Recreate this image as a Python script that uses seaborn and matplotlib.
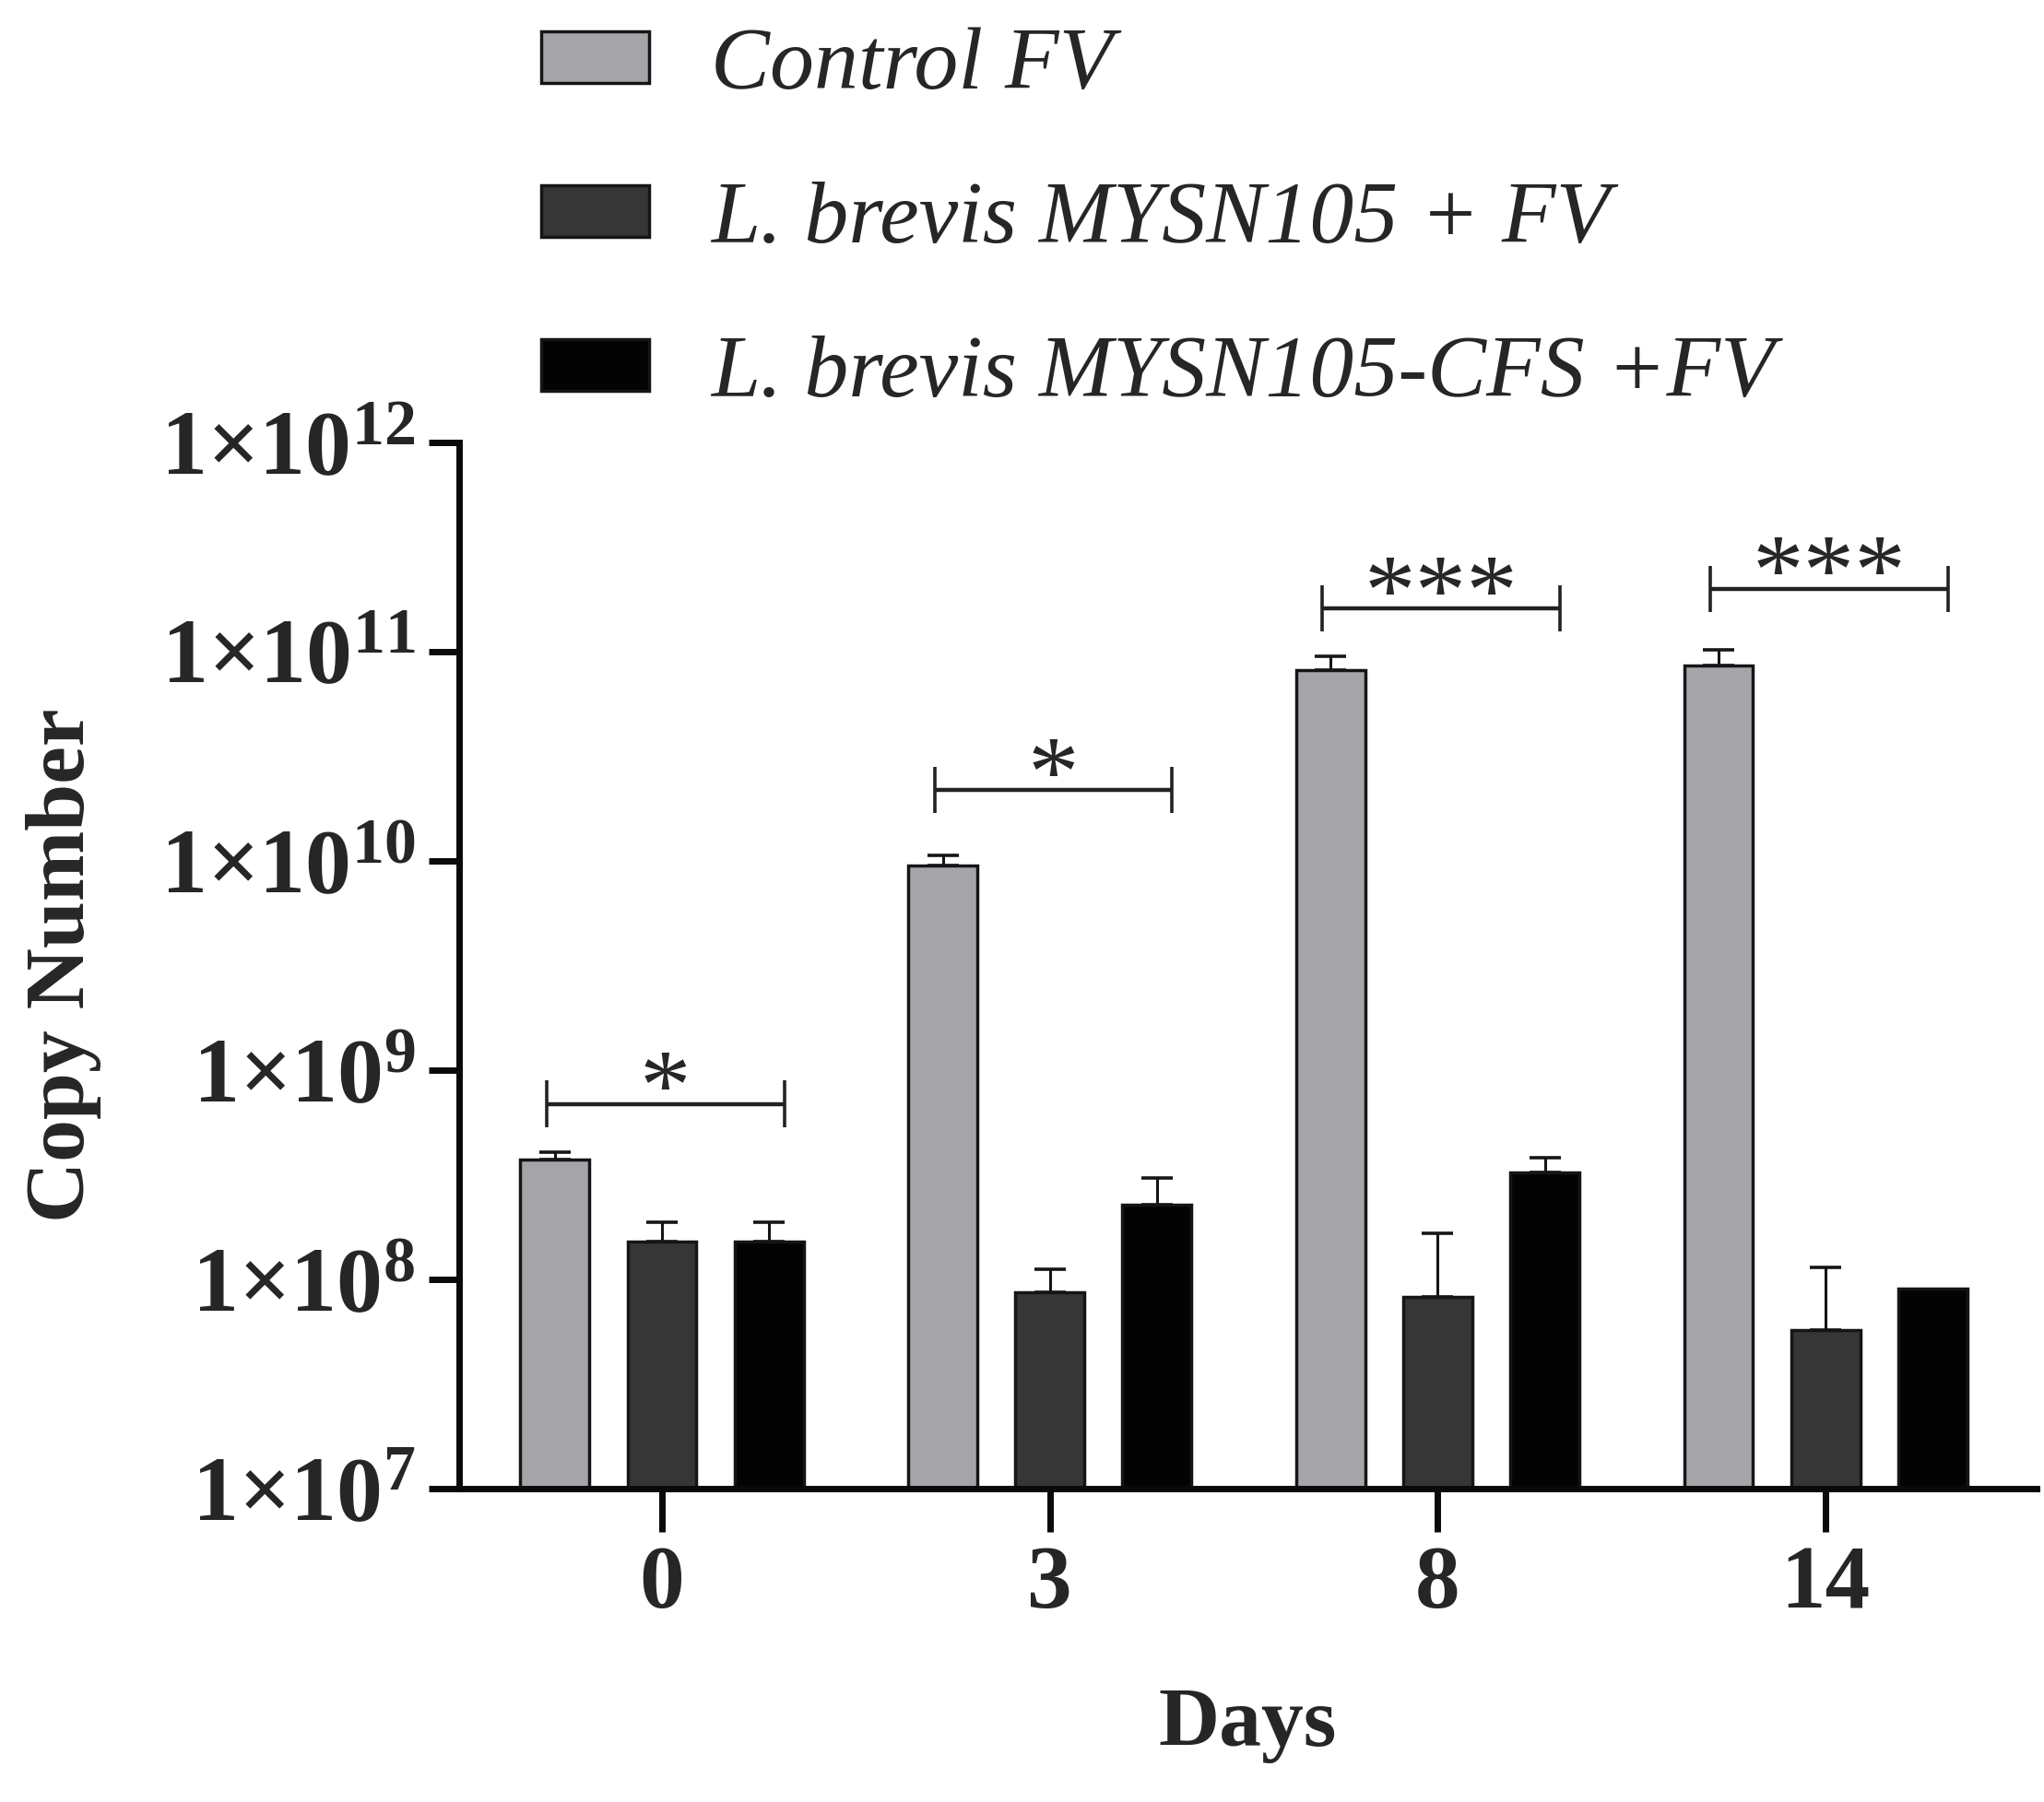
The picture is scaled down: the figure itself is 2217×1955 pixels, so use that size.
import numpy as np
import pandas as pd
import seaborn as sns
import matplotlib.pyplot as plt
from matplotlib.ticker import FixedLocator, NullLocator

# data
days = ["0", "3", "8", "14"]
groups = ["Control FV", "L. brevis MYSN105 + FV", "L. brevis MYSN105-CFS +FV"]
control_mean = [3.74e8, 9.5e9, 8.17e10, 8.6e10]
control_err = [0.32e8, 1.1e9, 1.33e10, 1.6e10]
lb_mean = [1.52e8, 8.67e7, 8.24e7, 5.72e7]
lb_err = [0.35e8, 2.5e7, 8.4e7, 5.7e7]
cfs_mean = [1.52e8, 2.28e8, 3.24e8, 9.04e7]
cfs_err = [0.35e8, 0.77e8, 0.56e8, 0.0]
sig_labels = ["*", "*", "***", "***"]
sig_heights = [6.9e8, 2.18e10, 1.61e11, 2.0e11]
ytick_vals = [1e7, 1e8, 1e9, 1e10, 1e11, 1e12]
ytick_labels = [r"$\mathbf{1×10^{7}}$", r"$\mathbf{1×10^{8}}$", r"$\mathbf{1×10^{9}}$",
                r"$\mathbf{1×10^{10}}$", r"$\mathbf{1×10^{11}}$", r"$\mathbf{1×10^{12}}$"]
colors = ["#a4a4a9", "#363636", "#030303"]

df = pd.DataFrame({
    "Days": days * 3,
    "Group": np.repeat(groups, len(days)),
    "Copy": control_mean + lb_mean + cfs_mean,
})

sns.set_style("ticks")
plt.rcParams["font.family"] = ["Liberation Serif", "DejaVu Serif"]
plt.rcParams["mathtext.fontset"] = "custom"
plt.rcParams["mathtext.rm"] = "Liberation Serif"
plt.rcParams["mathtext.bf"] = "Liberation Serif:bold"
plt.rcParams["mathtext.it"] = "Liberation Serif:italic"

fig = plt.figure(figsize=(22.17, 19.55), dpi=100)
ax = fig.add_axes([0.2246, 0.1739, 0.7718, 0.5806])
ax.set_yscale("log")

sns.barplot(data=df, x="Days", y="Copy", hue="Group", order=days, hue_order=groups,
            palette=colors, saturation=1, width=0.828, gap=0.355, errorbar=None,
            edgecolor="#151515", linewidth=2.5, legend=False, ax=ax)

bar_sets = [c for c in ax.containers]

# upper-only error bars on each bar
for cont, errs in zip(bar_sets, [control_err, lb_err, cfs_err]):
    for bar, e in zip(cont, errs):
        if e <= 0:
            continue
        xc = bar.get_x() + bar.get_width() / 2
        top = bar.get_y() + bar.get_height()
        ax.errorbar(xc, top, yerr=[[0], [e]], fmt="none", ecolor="#151515",
                    elinewidth=2.2, capsize=12, capthick=2.6, zorder=1)

# significance brackets (gray bar to black bar, slightly overhanging)
for i, (lab, h) in enumerate(zip(sig_labels, sig_heights)):
    b0 = bar_sets[0][i]
    b2 = bar_sets[2][i]
    w = b0.get_width()
    xl = b0.get_x() + w / 2 - 0.12 * w
    xr = b2.get_x() + w / 2 + 0.22 * w
    ax.plot([xl, xr], [h, h], color="#222222", lw=3.2, solid_capstyle="butt")
    ax.vlines([xl, xr], h / 1.29, h * 1.29, color="#222222", lw=2.6)
    ax.annotate(lab, xy=((xl + xr) / 2, h), xytext=(0, -12), textcoords="offset points",
                ha="center", va="baseline", fontsize=80)

ax.set_ylim(1e7, 1e12)
ax.set_xlim(-0.523, 3.544)
ax.yaxis.set_major_locator(FixedLocator(ytick_vals))
ax.yaxis.set_minor_locator(NullLocator())
ax.set_yticklabels(ytick_labels, fontsize=72)
ax.set_xticks(range(len(days)))
ax.set_xticklabels(days, fontsize=70, fontweight="bold")

sns.despine(ax=ax)
for side in ["left", "bottom"]:
    ax.spines[side].set_linewidth(5)
    ax.spines[side].set_color("#0a0a0a")
ax.tick_params(axis="y", length=24, width=5, pad=10, color="#0a0a0a")
ax.tick_params(axis="x", length=34, width=5, pad=10, color="#0a0a0a")

ax.set_ylabel("Copy Number", fontsize=66, fontweight="bold")
ax.set_xlabel("Days", fontsize=66, fontweight="bold")
ax.yaxis.set_label_coords(-0.227, 0.5)
ax.xaxis.set_label_coords(0.5, -0.19)

handles = [cont.patches[0] for cont in bar_sets]
fig.legend(handles, groups, loc="upper left", bbox_to_anchor=(0.2648, 0.985),
           frameon=False, borderpad=0, borderaxespad=0,
           prop={"family": "Liberation Serif", "style": "italic", "size": 69},
           handlelength=1.22, handleheight=0.53, handletextpad=0.7, labelspacing=0.84)

fig.savefig("out.png", dpi=100)
